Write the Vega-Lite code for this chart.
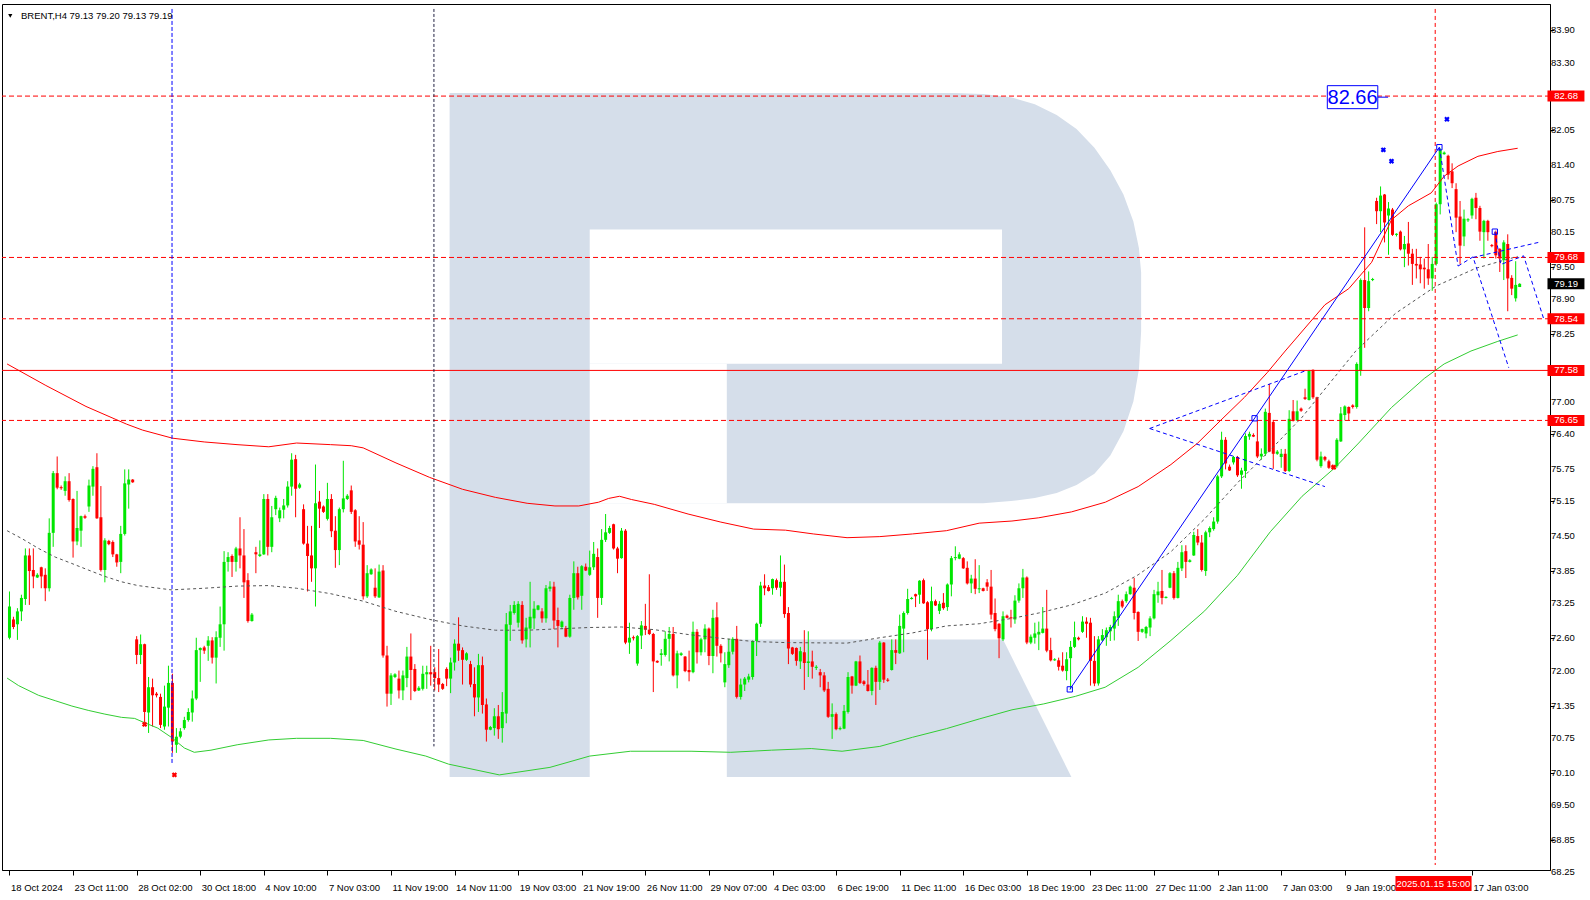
{
"$schema": "https://vega.github.io/schema/vega-lite/v6.json",
"width": 1548, "height": 866,
"autosize": {"type": "none"},
"padding": {"left": 2, "top": 4, "right": 40, "bottom": 30},
"background": "#ffffff",
"config": {"view": {"stroke": "#000000", "strokeWidth": 1}, "font": "Liberation Sans", "axis": {"labelOverlap": false, "labelBound": false, "labelFlush": false, "grid": false}},
"datasets": {
"candles": [
{"i":0,"o":72.61,"h":73.47,"l":72.58,"c":73.19},{"i":1,"o":72.95,"h":73.00,"l":72.77,"c":72.81},{"i":2,"o":72.86,"h":73.16,"l":72.57,"c":73.10},{"i":3,"o":73.10,"h":73.41,"l":72.92,"c":73.35},{"i":4,"o":73.33,"h":74.27,"l":73.22,"c":74.14},{"i":5,"o":74.14,"h":74.27,"l":73.22,"c":73.85},{"i":6,"o":73.87,"h":74.27,"l":73.53,"c":73.75},{"i":7,"o":73.73,"h":73.81,"l":73.72,"c":73.78},{"i":8,"o":73.92,"h":73.93,"l":73.53,"c":73.75},{"i":9,"o":73.78,"h":73.90,"l":73.29,"c":73.53},
{"i":10,"o":73.53,"h":74.83,"l":73.47,"c":74.56},{"i":11,"o":74.56,"h":75.71,"l":74.30,"c":75.67},{"i":12,"o":75.67,"h":75.98,"l":75.37,"c":75.40},{"i":13,"o":75.41,"h":75.44,"l":75.36,"c":75.39},{"i":14,"o":75.34,"h":75.61,"l":75.25,"c":75.52},{"i":15,"o":75.52,"h":75.67,"l":75.14,"c":75.17},{"i":16,"o":75.19,"h":75.20,"l":74.10,"c":74.40},{"i":17,"o":74.40,"h":75.34,"l":74.33,"c":74.65},{"i":18,"o":74.60,"h":74.88,"l":74.30,"c":74.87},{"i":19,"o":74.87,"h":74.90,"l":74.82,"c":74.84},
{"i":20,"o":75.05,"h":75.55,"l":74.95,"c":75.44},{"i":21,"o":75.42,"h":75.80,"l":75.25,"c":75.75},{"i":22,"o":75.78,"h":76.04,"l":74.82,"c":74.83},{"i":23,"o":74.85,"h":75.43,"l":73.84,"c":73.87},{"i":24,"o":73.87,"h":74.46,"l":73.64,"c":74.42},{"i":25,"o":74.41,"h":74.43,"l":74.33,"c":74.35},{"i":26,"o":74.39,"h":74.42,"l":74.11,"c":74.16},{"i":27,"o":74.16,"h":74.17,"l":73.93,"c":74.01},{"i":28,"o":74.02,"h":74.69,"l":73.81,"c":74.54},{"i":29,"o":74.54,"h":75.74,"l":74.51,"c":75.48},
{"i":30,"o":75.46,"h":75.74,"l":75.01,"c":75.55},{"i":31,"o":75.55,"h":75.56,"l":75.49,"c":75.50},{"i":32,"o":72.58,"h":72.64,"l":72.12,"c":72.29},{"i":33,"o":72.29,"h":72.67,"l":72.12,"c":72.49},{"i":34,"o":72.49,"h":72.50,"l":71.02,"c":71.23},{"i":35,"o":71.22,"h":71.88,"l":70.84,"c":71.69},{"i":36,"o":71.69,"h":71.85,"l":70.96,"c":71.54},{"i":37,"o":71.57,"h":71.60,"l":71.50,"c":71.54},{"i":38,"o":71.51,"h":71.57,"l":70.93,"c":70.99},{"i":39,"o":70.96,"h":71.72,"l":70.90,"c":71.33},
{"i":40,"o":71.31,"h":72.09,"l":70.96,"c":71.77},{"i":41,"o":71.77,"h":71.94,"l":70.47,"c":70.68},{"i":42,"o":70.62,"h":70.93,"l":70.47,"c":70.77},{"i":43,"o":70.77,"h":70.93,"l":70.74,"c":70.87},{"i":44,"o":70.93,"h":71.14,"l":70.90,"c":71.08},{"i":45,"o":71.08,"h":71.30,"l":71.05,"c":71.23},{"i":46,"o":71.22,"h":71.63,"l":71.05,"c":71.48},{"i":47,"o":71.48,"h":72.61,"l":71.45,"c":72.38},{"i":48,"o":72.38,"h":72.43,"l":71.79,"c":72.42},{"i":49,"o":72.43,"h":72.46,"l":72.31,"c":72.37},
{"i":50,"o":72.46,"h":72.64,"l":72.18,"c":72.56},{"i":51,"o":72.56,"h":72.62,"l":72.13,"c":72.24},{"i":52,"o":72.24,"h":72.73,"l":71.76,"c":72.62},{"i":53,"o":72.61,"h":73.19,"l":72.44,"c":72.86},{"i":54,"o":72.86,"h":74.22,"l":72.37,"c":74.02},{"i":55,"o":74.02,"h":74.20,"l":73.84,"c":74.11},{"i":56,"o":74.13,"h":74.16,"l":73.74,"c":74.02},{"i":57,"o":74.02,"h":74.30,"l":73.84,"c":74.27},{"i":58,"o":74.27,"h":74.85,"l":73.90,"c":74.14},{"i":59,"o":74.14,"h":74.63,"l":73.35,"c":73.64},
{"i":60,"o":73.68,"h":73.81,"l":72.89,"c":72.92},{"i":61,"o":72.92,"h":73.07,"l":72.91,"c":73.04},{"i":62,"o":74.20,"h":74.30,"l":73.81,"c":74.16},{"i":63,"o":74.13,"h":74.42,"l":74.11,"c":74.16},{"i":64,"o":74.16,"h":75.28,"l":74.15,"c":75.19},{"i":65,"o":75.19,"h":75.28,"l":74.14,"c":74.30},{"i":66,"o":74.30,"h":75.06,"l":74.20,"c":74.85},{"i":67,"o":75.00,"h":75.25,"l":74.89,"c":75.21},{"i":68,"o":74.83,"h":75.03,"l":74.76,"c":74.98},{"i":69,"o":74.99,"h":75.19,"l":74.83,"c":75.07},
{"i":70,"o":75.07,"h":75.52,"l":75.03,"c":75.42},{"i":71,"o":75.42,"h":76.04,"l":75.25,"c":75.92},{"i":72,"o":75.93,"h":76.01,"l":74.85,"c":75.38},{"i":73,"o":75.40,"h":75.49,"l":75.38,"c":75.46},{"i":74,"o":75.00,"h":75.09,"l":74.34,"c":74.36},{"i":75,"o":74.36,"h":74.69,"l":73.47,"c":74.13},{"i":76,"o":74.14,"h":74.69,"l":73.65,"c":73.90},{"i":77,"o":73.90,"h":75.83,"l":73.19,"c":75.11},{"i":78,"o":75.14,"h":75.34,"l":74.65,"c":75.01},{"i":79,"o":75.05,"h":75.07,"l":74.93,"c":74.95},
{"i":80,"o":74.82,"h":75.49,"l":74.79,"c":75.19},{"i":81,"o":75.19,"h":75.28,"l":74.48,"c":74.59},{"i":82,"o":74.60,"h":74.87,"l":73.91,"c":74.24},{"i":83,"o":74.24,"h":75.03,"l":73.96,"c":75.00},{"i":84,"o":75.00,"h":75.90,"l":74.94,"c":75.20},{"i":85,"o":75.19,"h":75.28,"l":75.17,"c":75.25},{"i":86,"o":75.35,"h":75.44,"l":74.91,"c":74.95},{"i":87,"o":74.98,"h":75.00,"l":74.30,"c":74.40},{"i":88,"o":74.42,"h":74.87,"l":74.25,"c":74.34},{"i":89,"o":74.34,"h":74.76,"l":73.32,"c":73.38},
{"i":90,"o":73.38,"h":73.96,"l":73.35,"c":73.81},{"i":91,"o":73.79,"h":73.90,"l":73.78,"c":73.88},{"i":92,"o":73.54,"h":73.90,"l":73.35,"c":73.38},{"i":93,"o":73.36,"h":73.97,"l":73.35,"c":73.84},{"i":94,"o":73.86,"h":73.96,"l":72.24,"c":72.28},{"i":95,"o":72.28,"h":72.46,"l":71.33,"c":71.57},{"i":96,"o":71.57,"h":71.95,"l":71.36,"c":71.91},{"i":97,"o":71.88,"h":71.95,"l":71.86,"c":71.93},{"i":98,"o":71.85,"h":72.00,"l":71.48,"c":71.63},{"i":99,"o":71.63,"h":72.00,"l":71.45,"c":71.91},
{"i":100,"o":71.86,"h":72.44,"l":71.69,"c":72.26},{"i":101,"o":72.26,"h":72.69,"l":71.45,"c":72.01},{"i":102,"o":72.03,"h":72.12,"l":71.60,"c":71.62},{"i":103,"o":71.63,"h":71.71,"l":71.62,"c":71.68},{"i":104,"o":71.66,"h":72.09,"l":71.63,"c":71.94},{"i":105,"o":71.93,"h":72.09,"l":71.66,"c":71.97},{"i":106,"o":71.97,"h":72.46,"l":71.72,"c":71.93},{"i":107,"o":71.97,"h":72.06,"l":71.63,"c":71.86},{"i":108,"o":71.86,"h":72.40,"l":71.60,"c":71.74},{"i":109,"o":71.75,"h":71.77,"l":71.64,"c":71.66},
{"i":110,"o":72.03,"h":72.06,"l":71.71,"c":71.85},{"i":111,"o":71.85,"h":72.24,"l":71.58,"c":72.15},{"i":112,"o":72.15,"h":72.58,"l":72.00,"c":72.50},{"i":113,"o":72.50,"h":72.99,"l":72.18,"c":72.37},{"i":114,"o":72.38,"h":72.43,"l":71.74,"c":72.20},{"i":115,"o":72.20,"h":72.34,"l":72.18,"c":72.32},{"i":116,"o":72.12,"h":72.18,"l":71.69,"c":71.74},{"i":117,"o":71.75,"h":72.06,"l":71.15,"c":71.50},{"i":118,"o":71.50,"h":72.31,"l":71.23,"c":72.10},{"i":119,"o":72.10,"h":72.26,"l":71.20,"c":71.36},
{"i":120,"o":71.37,"h":71.48,"l":70.68,"c":70.90},{"i":121,"o":70.90,"h":70.97,"l":70.89,"c":70.95},{"i":122,"o":70.93,"h":71.30,"l":70.79,"c":71.15},{"i":123,"o":71.15,"h":71.36,"l":70.73,"c":70.91},{"i":124,"o":70.93,"h":71.60,"l":70.66,"c":71.23},{"i":125,"o":71.20,"h":73.07,"l":71.02,"c":72.86},{"i":126,"o":72.85,"h":73.22,"l":72.55,"c":73.10},{"i":127,"o":73.07,"h":73.29,"l":73.04,"c":73.22},{"i":128,"o":72.89,"h":73.29,"l":72.80,"c":73.24},{"i":129,"o":73.22,"h":73.29,"l":72.50,"c":72.56},
{"i":130,"o":72.58,"h":72.98,"l":72.43,"c":72.80},{"i":131,"o":72.78,"h":73.65,"l":72.43,"c":73.00},{"i":132,"o":72.97,"h":73.29,"l":72.77,"c":73.15},{"i":133,"o":73.13,"h":73.22,"l":73.12,"c":73.21},{"i":134,"o":73.10,"h":73.16,"l":72.89,"c":72.97},{"i":135,"o":72.97,"h":73.59,"l":72.89,"c":73.53},{"i":136,"o":73.52,"h":73.66,"l":73.47,"c":73.56},{"i":137,"o":73.56,"h":73.65,"l":72.77,"c":72.93},{"i":138,"o":72.94,"h":73.17,"l":72.43,"c":72.83},{"i":139,"o":72.81,"h":72.93,"l":72.77,"c":72.91},
{"i":140,"o":72.79,"h":72.83,"l":72.62,"c":72.63},{"i":141,"o":72.63,"h":73.41,"l":72.61,"c":73.35},{"i":142,"o":73.35,"h":74.03,"l":73.13,"c":73.81},{"i":143,"o":73.81,"h":73.93,"l":73.32,"c":73.36},{"i":144,"o":73.39,"h":73.96,"l":73.13,"c":73.94},{"i":145,"o":73.93,"h":73.99,"l":73.85,"c":73.86},{"i":146,"o":73.78,"h":74.23,"l":73.76,"c":73.92},{"i":147,"o":73.92,"h":74.39,"l":73.87,"c":74.17},{"i":148,"o":74.11,"h":74.27,"l":72.98,"c":73.35},{"i":149,"o":73.35,"h":74.63,"l":73.22,"c":74.43},
{"i":150,"o":74.43,"h":74.91,"l":74.39,"c":74.57},{"i":151,"o":74.56,"h":74.69,"l":74.54,"c":74.65},{"i":152,"o":74.72,"h":74.73,"l":74.25,"c":74.27},{"i":153,"o":74.27,"h":74.30,"l":73.81,"c":74.08},{"i":154,"o":74.09,"h":74.65,"l":74.08,"c":74.60},{"i":155,"o":74.60,"h":74.63,"l":72.49,"c":72.52},{"i":156,"o":72.52,"h":72.89,"l":72.31,"c":72.61},{"i":157,"o":72.62,"h":72.65,"l":72.56,"c":72.60},{"i":158,"o":72.13,"h":72.66,"l":72.09,"c":72.64},{"i":159,"o":72.65,"h":72.92,"l":72.40,"c":72.84},
{"i":160,"o":72.83,"h":73.24,"l":72.66,"c":72.76},{"i":161,"o":72.76,"h":73.79,"l":72.66,"c":72.68},{"i":162,"o":72.68,"h":72.70,"l":71.60,"c":72.17},{"i":163,"o":72.18,"h":72.19,"l":72.14,"c":72.15},{"i":164,"o":72.29,"h":72.40,"l":72.09,"c":72.32},{"i":165,"o":72.29,"h":72.73,"l":72.26,"c":72.59},{"i":166,"o":72.59,"h":72.81,"l":72.17,"c":72.68},{"i":167,"o":72.68,"h":72.81,"l":71.89,"c":71.91},{"i":168,"o":71.91,"h":72.37,"l":71.67,"c":72.32},{"i":169,"o":72.29,"h":72.34,"l":72.27,"c":72.32},
{"i":170,"o":72.26,"h":72.27,"l":71.97,"c":71.99},{"i":171,"o":72.01,"h":72.37,"l":71.80,"c":71.97},{"i":172,"o":71.97,"h":72.91,"l":71.95,"c":72.72},{"i":173,"o":72.72,"h":72.77,"l":72.13,"c":72.34},{"i":174,"o":72.34,"h":72.61,"l":72.28,"c":72.58},{"i":175,"o":72.58,"h":72.86,"l":72.34,"c":72.78},{"i":176,"o":72.78,"h":72.80,"l":72.10,"c":72.27},{"i":177,"o":72.27,"h":73.13,"l":71.95,"c":72.98},{"i":178,"o":72.99,"h":73.27,"l":72.26,"c":72.46},{"i":179,"o":72.46,"h":72.49,"l":72.15,"c":72.32},
{"i":180,"o":71.78,"h":72.34,"l":71.69,"c":72.12},{"i":181,"o":72.10,"h":72.59,"l":72.05,"c":72.35},{"i":182,"o":72.35,"h":72.62,"l":72.30,"c":72.59},{"i":183,"o":72.59,"h":72.83,"l":71.48,"c":71.51},{"i":184,"o":71.51,"h":71.85,"l":71.46,"c":71.74},{"i":185,"o":71.74,"h":71.88,"l":71.62,"c":71.85},{"i":186,"o":71.83,"h":71.94,"l":71.78,"c":71.89},{"i":187,"o":71.88,"h":72.56,"l":71.83,"c":72.55},{"i":188,"o":72.55,"h":72.89,"l":72.27,"c":72.87},{"i":189,"o":72.87,"h":73.65,"l":72.81,"c":73.58},
{"i":190,"o":73.58,"h":73.79,"l":73.40,"c":73.53},{"i":191,"o":73.55,"h":73.59,"l":73.47,"c":73.48},{"i":192,"o":73.53,"h":73.71,"l":73.41,"c":73.70},{"i":193,"o":73.68,"h":73.71,"l":73.50,"c":73.54},{"i":194,"o":73.54,"h":74.14,"l":73.38,"c":73.65},{"i":195,"o":73.65,"h":73.97,"l":72.98,"c":73.05},{"i":196,"o":73.07,"h":73.18,"l":72.12,"c":72.41},{"i":197,"o":72.43,"h":72.44,"l":72.29,"c":72.31},{"i":198,"o":72.42,"h":72.43,"l":72.09,"c":72.18},{"i":199,"o":72.17,"h":72.44,"l":72.03,"c":72.36},
{"i":200,"o":72.34,"h":72.75,"l":71.64,"c":72.14},{"i":201,"o":72.14,"h":72.73,"l":71.88,"c":72.17},{"i":202,"o":72.17,"h":72.37,"l":71.85,"c":72.07},{"i":203,"o":72.05,"h":72.10,"l":72.01,"c":72.07},{"i":204,"o":71.97,"h":72.03,"l":71.69,"c":71.91},{"i":205,"o":71.91,"h":71.97,"l":71.60,"c":71.63},{"i":206,"o":71.66,"h":71.79,"l":71.12,"c":71.14},{"i":207,"o":71.14,"h":71.39,"l":70.73,"c":71.19},{"i":208,"o":71.19,"h":71.22,"l":70.89,"c":70.91},{"i":209,"o":70.91,"h":70.96,"l":70.89,"c":70.93},
{"i":210,"o":70.92,"h":71.36,"l":70.91,"c":71.25},{"i":211,"o":71.23,"h":71.97,"l":71.20,"c":71.88},{"i":212,"o":71.89,"h":71.90,"l":71.57,"c":71.72},{"i":213,"o":71.72,"h":72.18,"l":71.71,"c":72.17},{"i":214,"o":72.17,"h":72.28,"l":71.75,"c":71.77},{"i":215,"o":71.80,"h":71.82,"l":71.72,"c":71.75},{"i":216,"o":71.74,"h":72.01,"l":71.61,"c":71.62},{"i":217,"o":71.62,"h":72.06,"l":71.54,"c":72.05},{"i":218,"o":72.05,"h":72.09,"l":71.36,"c":71.79},{"i":219,"o":71.79,"h":72.55,"l":71.64,"c":72.52},
{"i":220,"o":72.52,"h":72.53,"l":71.77,"c":71.83},{"i":221,"o":71.83,"h":71.86,"l":71.79,"c":71.81},{"i":222,"o":72.01,"h":72.58,"l":72.00,"c":72.38},{"i":223,"o":72.38,"h":72.58,"l":72.12,"c":72.33},{"i":224,"o":72.32,"h":73.04,"l":72.31,"c":72.83},{"i":225,"o":72.78,"h":73.10,"l":72.34,"c":73.07},{"i":226,"o":73.07,"h":73.52,"l":73.04,"c":73.33},{"i":227,"o":73.33,"h":73.37,"l":73.32,"c":73.35},{"i":228,"o":73.42,"h":73.43,"l":73.18,"c":73.38},{"i":229,"o":73.41,"h":73.68,"l":73.24,"c":73.67},
{"i":230,"o":73.68,"h":73.71,"l":73.24,"c":73.25},{"i":231,"o":73.27,"h":73.29,"l":72.20,"c":72.77},{"i":232,"o":72.77,"h":73.56,"l":72.73,"c":73.29},{"i":233,"o":73.29,"h":73.32,"l":73.20,"c":73.21},{"i":234,"o":73.11,"h":73.29,"l":73.05,"c":73.24},{"i":235,"o":73.26,"h":73.44,"l":73.13,"c":73.16},{"i":236,"o":73.18,"h":73.62,"l":73.11,"c":73.60},{"i":237,"o":73.60,"h":74.13,"l":73.38,"c":74.09},{"i":238,"o":74.09,"h":74.31,"l":74.05,"c":74.11},{"i":239,"o":74.08,"h":74.20,"l":74.07,"c":74.16},
{"i":240,"o":74.09,"h":74.11,"l":73.89,"c":73.90},{"i":241,"o":73.91,"h":74.03,"l":73.60,"c":73.62},{"i":242,"o":73.62,"h":73.78,"l":73.44,"c":73.71},{"i":243,"o":73.71,"h":74.07,"l":73.42,"c":73.52},{"i":244,"o":73.51,"h":73.96,"l":73.44,"c":73.53},{"i":245,"o":73.53,"h":73.54,"l":73.47,"c":73.48},{"i":246,"o":73.64,"h":73.70,"l":73.48,"c":73.56},{"i":247,"o":73.56,"h":73.87,"l":72.95,"c":73.04},{"i":248,"o":73.07,"h":73.34,"l":72.73,"c":72.77},{"i":249,"o":72.87,"h":72.88,"l":72.23,"c":72.60},
{"i":250,"o":72.58,"h":73.10,"l":72.55,"c":73.01},{"i":251,"o":73.02,"h":73.04,"l":72.97,"c":72.98},{"i":252,"o":72.99,"h":73.13,"l":72.80,"c":72.97},{"i":253,"o":72.95,"h":73.40,"l":72.87,"c":73.30},{"i":254,"o":73.30,"h":73.62,"l":73.26,"c":73.53},{"i":255,"o":73.53,"h":73.89,"l":73.35,"c":73.73},{"i":256,"o":73.73,"h":73.75,"l":72.49,"c":72.52},{"i":257,"o":72.52,"h":72.67,"l":72.49,"c":72.63},{"i":258,"o":72.61,"h":72.89,"l":72.50,"c":72.69},{"i":259,"o":72.67,"h":72.91,"l":72.38,"c":72.72},
{"i":260,"o":72.70,"h":73.18,"l":72.69,"c":72.78},{"i":261,"o":72.78,"h":73.50,"l":72.34,"c":72.37},{"i":262,"o":72.38,"h":72.61,"l":72.17,"c":72.19},{"i":263,"o":72.19,"h":72.23,"l":72.18,"c":72.21},{"i":264,"o":72.19,"h":72.24,"l":72.00,"c":72.07},{"i":265,"o":72.09,"h":72.34,"l":71.98,"c":72.00},{"i":266,"o":71.99,"h":72.34,"l":71.82,"c":72.21},{"i":267,"o":72.23,"h":72.55,"l":71.65,"c":72.44},{"i":268,"o":72.44,"h":72.91,"l":72.42,"c":72.62},{"i":269,"o":72.61,"h":72.63,"l":72.56,"c":72.58},
{"i":270,"o":72.72,"h":73.01,"l":72.70,"c":72.91},{"i":271,"o":72.91,"h":72.99,"l":72.61,"c":72.87},{"i":272,"o":72.89,"h":72.98,"l":71.72,"c":72.18},{"i":273,"o":72.18,"h":72.64,"l":71.71,"c":71.76},{"i":274,"o":71.76,"h":72.64,"l":71.72,"c":72.58},{"i":275,"o":72.56,"h":72.77,"l":72.55,"c":72.66},{"i":276,"o":72.62,"h":72.80,"l":72.46,"c":72.75},{"i":277,"o":72.73,"h":72.85,"l":72.55,"c":72.81},{"i":278,"o":72.78,"h":73.10,"l":72.56,"c":73.01},{"i":279,"o":72.98,"h":73.41,"l":72.83,"c":73.29},
{"i":280,"o":73.29,"h":73.32,"l":73.16,"c":73.19},{"i":281,"o":73.29,"h":73.47,"l":73.26,"c":73.42},{"i":282,"o":73.42,"h":73.58,"l":73.41,"c":73.56},{"i":283,"o":73.54,"h":73.72,"l":72.95,"c":73.07},{"i":284,"o":73.09,"h":73.10,"l":72.55,"c":72.72},{"i":285,"o":72.72,"h":72.78,"l":72.70,"c":72.77},{"i":286,"o":72.69,"h":72.83,"l":72.60,"c":72.81},{"i":287,"o":72.80,"h":73.01,"l":72.64,"c":72.97},{"i":288,"o":72.97,"h":73.50,"l":72.95,"c":73.42},{"i":289,"o":73.40,"h":73.65,"l":73.26,"c":73.47},
{"i":290,"o":73.48,"h":73.87,"l":73.23,"c":73.35},{"i":291,"o":73.35,"h":73.38,"l":73.34,"c":73.37},{"i":292,"o":73.54,"h":73.83,"l":73.53,"c":73.81},{"i":293,"o":73.81,"h":73.85,"l":73.32,"c":73.35},{"i":294,"o":73.35,"h":74.02,"l":73.34,"c":73.91},{"i":295,"o":73.90,"h":74.33,"l":73.85,"c":74.20},{"i":296,"o":74.22,"h":74.33,"l":73.72,"c":74.02},{"i":297,"o":74.02,"h":74.07,"l":74.01,"c":74.05},{"i":298,"o":74.14,"h":74.58,"l":74.13,"c":74.52},{"i":299,"o":74.50,"h":74.63,"l":74.33,"c":74.38},
{"i":300,"o":74.38,"h":74.52,"l":73.84,"c":73.87},{"i":301,"o":73.85,"h":74.60,"l":73.76,"c":74.57},{"i":302,"o":74.57,"h":74.68,"l":74.48,"c":74.65},{"i":303,"o":74.63,"h":74.85,"l":74.60,"c":74.77},{"i":304,"o":74.77,"h":75.64,"l":74.73,"c":75.61},{"i":305,"o":75.61,"h":76.44,"l":75.58,"c":76.29},{"i":306,"o":76.29,"h":76.34,"l":75.74,"c":75.85},{"i":307,"o":75.79,"h":75.83,"l":75.71,"c":75.72},{"i":308,"o":75.87,"h":75.99,"l":75.83,"c":75.97},{"i":309,"o":75.97,"h":75.99,"l":75.60,"c":75.63},
{"i":310,"o":75.64,"h":75.77,"l":75.38,"c":75.72},{"i":311,"o":75.71,"h":76.41,"l":75.58,"c":76.36},{"i":312,"o":76.35,"h":76.44,"l":76.29,"c":76.40},{"i":313,"o":76.38,"h":76.41,"l":76.34,"c":76.35},{"i":314,"o":76.26,"h":76.66,"l":75.95,"c":75.98},{"i":315,"o":75.98,"h":76.13,"l":75.92,"c":76.03},{"i":316,"o":76.03,"h":76.87,"l":75.99,"c":76.81},{"i":317,"o":76.79,"h":77.33,"l":76.06,"c":76.07},{"i":318,"o":76.62,"h":76.66,"l":75.75,"c":76.03},{"i":319,"o":76.03,"h":76.10,"l":76.01,"c":76.07},
{"i":320,"o":75.97,"h":76.12,"l":75.77,"c":76.03},{"i":321,"o":76.03,"h":76.12,"l":75.69,"c":75.71},{"i":322,"o":75.71,"h":76.84,"l":75.69,"c":76.68},{"i":323,"o":76.82,"h":77.03,"l":76.63,"c":76.64},{"i":324,"o":76.65,"h":77.02,"l":76.64,"c":76.82},{"i":325,"o":76.87,"h":76.89,"l":76.81,"c":76.83},{"i":326,"o":77.08,"h":77.24,"l":77.03,"c":77.05},{"i":327,"o":77.03,"h":77.59,"l":77.02,"c":77.57},{"i":328,"o":77.59,"h":77.60,"l":77.05,"c":77.08},{"i":329,"o":77.08,"h":77.09,"l":75.89,"c":75.92},
{"i":330,"o":75.80,"h":76.07,"l":75.77,"c":75.98},{"i":331,"o":75.97,"h":75.99,"l":75.89,"c":75.92},{"i":332,"o":75.89,"h":75.92,"l":75.75,"c":75.77},{"i":333,"o":75.81,"h":75.83,"l":75.74,"c":75.77},{"i":334,"o":75.80,"h":76.32,"l":75.77,"c":76.29},{"i":335,"o":76.26,"h":76.90,"l":76.25,"c":76.78},{"i":336,"o":76.75,"h":76.93,"l":76.65,"c":76.91},{"i":337,"o":76.90,"h":76.91,"l":76.65,"c":76.78},{"i":338,"o":76.93,"h":76.95,"l":76.87,"c":76.90},{"i":339,"o":76.90,"h":77.73,"l":76.87,"c":77.70},
{"i":340,"o":77.57,"h":79.29,"l":77.48,"c":79.26},{"i":341,"o":79.26,"h":80.24,"l":78.00,"c":78.74},{"i":342,"o":78.74,"h":79.42,"l":78.68,"c":79.24},{"i":343,"o":79.26,"h":79.30,"l":79.24,"c":79.28},{"i":344,"o":80.73,"h":80.79,"l":80.30,"c":80.54},{"i":345,"o":80.54,"h":81.00,"l":80.15,"c":80.83},{"i":346,"o":80.85,"h":80.86,"l":79.96,"c":80.33},{"i":347,"o":80.46,"h":80.71,"l":79.73,"c":80.59},{"i":348,"o":80.57,"h":80.60,"l":80.08,"c":80.10},{"i":349,"o":80.10,"h":80.13,"l":80.07,"c":80.12},
{"i":350,"o":80.16,"h":80.18,"l":79.81,"c":79.83},{"i":351,"o":79.83,"h":80.08,"l":79.50,"c":79.93},{"i":352,"o":79.94,"h":80.34,"l":79.53,"c":79.75},{"i":353,"o":79.75,"h":79.84,"l":79.17,"c":79.56},{"i":354,"o":79.56,"h":79.84,"l":79.29,"c":79.53},{"i":355,"o":79.55,"h":79.69,"l":79.20,"c":79.46},{"i":356,"o":79.49,"h":79.66,"l":79.10,"c":79.46},{"i":357,"o":79.46,"h":79.93,"l":79.17,"c":79.29},{"i":358,"o":79.29,"h":79.69,"l":79.06,"c":79.56},{"i":359,"o":79.56,"h":80.70,"l":79.53,"c":80.67},
{"i":360,"o":80.67,"h":81.71,"l":80.48,"c":81.68},{"i":361,"o":81.60,"h":81.65,"l":81.59,"c":81.63},{"i":362,"o":81.57,"h":81.59,"l":81.13,"c":81.22},{"i":363,"o":81.28,"h":81.43,"l":80.97,"c":81.06},{"i":364,"o":80.95,"h":81.06,"l":80.15,"c":80.42},{"i":365,"o":80.44,"h":80.73,"l":79.56,"c":79.90},{"i":366,"o":80.07,"h":80.57,"l":79.89,"c":80.40},{"i":367,"o":80.37,"h":80.41,"l":80.34,"c":80.39},{"i":368,"o":80.46,"h":80.79,"l":80.40,"c":80.77},{"i":369,"o":80.79,"h":80.88,"l":80.39,"c":80.60},
{"i":370,"o":80.60,"h":80.64,"l":79.99,"c":80.16},{"i":371,"o":80.15,"h":80.38,"l":79.66,"c":80.36},{"i":372,"o":80.36,"h":80.38,"l":79.99,"c":80.15},{"i":373,"o":79.91,"h":79.93,"l":79.87,"c":79.89},{"i":374,"o":80.15,"h":80.18,"l":79.66,"c":79.72},{"i":375,"o":79.84,"h":79.85,"l":79.41,"c":79.66},{"i":376,"o":79.63,"h":80.00,"l":79.26,"c":79.96},{"i":377,"o":79.93,"h":80.11,"l":78.68,"c":79.29},{"i":378,"o":79.30,"h":79.35,"l":78.98,"c":79.10},{"i":379,"o":78.92,"h":79.61,"l":78.86,"c":79.17},
{"i":380,"o":79.13,"h":79.20,"l":79.13,"c":79.19}
],
"up": [
{"i":-0.6,"p":77.70},{"i":9.15,"p":77.30},{"i":19.25,"p":76.91},{"i":29.5,"p":76.58},{"i":33.5,"p":76.47},{"i":41,"p":76.32},{"i":49,"p":76.25},{"i":57.25,"p":76.20},{"i":65.25,"p":76.16},{"i":72.25,"p":76.23},{"i":80.75,"p":76.20},{"i":86,"p":76.18},{"i":89,"p":76.14},{"i":97.25,"p":75.86},{"i":105.75,"p":75.59},{"i":114,"p":75.37},{"i":122.25,"p":75.22},{"i":130.25,"p":75.11},{"i":137.25,"p":75.06},{"i":143.25,"p":75.06},{"i":148.25,"p":75.13},{"i":150.75,"p":75.20},{"i":153.5,"p":75.24},{"i":156.5,"p":75.18},{"i":162.25,"p":75.09},{"i":170.75,"p":74.91},{"i":179,"p":74.76},{"i":187.25,"p":74.63},{"i":195.25,"p":74.61},{"i":202.25,"p":74.54},{"i":210.75,"p":74.47},{"i":219,"p":74.49},{"i":227.25,"p":74.54},{"i":235.75,"p":74.60},{"i":244,"p":74.74},{"i":252.25,"p":74.78},{"i":259,"p":74.84},{"i":267.25,"p":74.95},{"i":275.75,"p":75.13},{"i":284,"p":75.42},{"i":292.25,"p":75.83},{"i":299,"p":76.23},{"i":304.75,"p":76.65},{"i":310.75,"p":77.08},{"i":316.5,"p":77.54},{"i":321,"p":77.94},{"i":322.75,"p":78.09},{"i":331,"p":78.80},{"i":337,"p":79.10},{"i":342.75,"p":79.59},{"i":347.75,"p":80.38},{"i":352,"p":80.64},{"i":357.75,"p":80.88},{"i":361,"p":81.19},{"i":364.5,"p":81.38},{"i":369.5,"p":81.56},{"i":374.5,"p":81.65},{"i":379.5,"p":81.71}
],
"mid": [
{"i":-0.6,"p":74.60},{"i":3.2,"p":74.45},{"i":7.3,"p":74.27},{"i":11.5,"p":74.11},{"i":15.7,"p":73.99},{"i":19.8,"p":73.87},{"i":24,"p":73.75},{"i":28.2,"p":73.65},{"i":32.3,"p":73.58},{"i":36.5,"p":73.54},{"i":40.7,"p":73.50},{"i":49,"p":73.53},{"i":57.3,"p":73.57},{"i":65.25,"p":73.58},{"i":72.25,"p":73.53},{"i":80.75,"p":73.43},{"i":89,"p":73.29},{"i":97.25,"p":73.10},{"i":105.75,"p":72.95},{"i":114,"p":72.83},{"i":122.25,"p":72.75},{"i":130.25,"p":72.75},{"i":145.75,"p":72.80},{"i":154,"p":72.81},{"i":162.25,"p":72.76},{"i":170.75,"p":72.67},{"i":179,"p":72.60},{"i":187.25,"p":72.54},{"i":195.25,"p":72.52},{"i":210.75,"p":72.51},{"i":219,"p":72.61},{"i":227.25,"p":72.70},{"i":235.75,"p":72.83},{"i":244,"p":72.87},{"i":252.25,"p":72.97},{"i":259,"p":73.07},{"i":267.25,"p":73.22},{"i":275.75,"p":73.44},{"i":284,"p":73.78},{"i":292.25,"p":74.21},{"i":300.75,"p":74.82},{"i":309,"p":75.49},{"i":317.25,"p":76.10},{"i":325.25,"p":76.71},{"i":338.75,"p":77.94},{"i":348.75,"p":78.64},{"i":359,"p":79.15},{"i":369,"p":79.48},{"i":379.5,"p":79.70}
],
"low": [
{"i":-0.6,"p":71.86},{"i":2.3,"p":71.72},{"i":7.3,"p":71.54},{"i":11.5,"p":71.44},{"i":15.7,"p":71.34},{"i":19.8,"p":71.26},{"i":24,"p":71.19},{"i":28.2,"p":71.13},{"i":31.5,"p":71.11},{"i":34,"p":71.03},{"i":37.3,"p":70.93},{"i":40.7,"p":70.76},{"i":44,"p":70.56},{"i":46.5,"p":70.48},{"i":50.7,"p":70.52},{"i":57.3,"p":70.62},{"i":65.25,"p":70.71},{"i":72.25,"p":70.74},{"i":80.75,"p":70.74},{"i":89,"p":70.70},{"i":97.25,"p":70.54},{"i":104.75,"p":70.41},{"i":110.5,"p":70.26},{"i":123.25,"p":70.06},{"i":136,"p":70.20},{"i":146,"p":70.41},{"i":156.25,"p":70.50},{"i":171.5,"p":70.50},{"i":181.5,"p":70.48},{"i":191.75,"p":70.52},{"i":201.75,"p":70.55},{"i":209.5,"p":70.50},{"i":219,"p":70.59},{"i":227.25,"p":70.76},{"i":235.75,"p":70.92},{"i":244,"p":71.10},{"i":252.25,"p":71.27},{"i":260.25,"p":71.38},{"i":268.2,"p":71.52},{"i":275.7,"p":71.69},{"i":284,"p":72.06},{"i":292.25,"p":72.56},{"i":300.75,"p":73.11},{"i":309,"p":73.77},{"i":317.25,"p":74.58},{"i":325.25,"p":75.24},{"i":333.5,"p":75.77},{"i":339.5,"p":76.23},{"i":347.75,"p":76.89},{"i":356,"p":77.43},{"i":361,"p":77.70},{"i":367.75,"p":77.94},{"i":374.5,"p":78.12},{"i":379.5,"p":78.24}
],
"logo": [
{"i":110.75,"t":82.737,"b":70.021},{"i":146,"t":82.737,"b":70.021},{"i":146.05,"t":82.737,"b":75.111},{"i":238,"t":82.737,"b":75.111},{"i":245,"t":82.72,"b":75.111},{"i":252,"t":82.66,"b":75.15},{"i":258,"t":82.53,"b":75.21},{"i":263.5,"t":82.33,"b":75.30},{"i":268.5,"t":82.07,"b":75.45},{"i":273,"t":81.72,"b":75.66},{"i":277,"t":81.30,"b":76.00},{"i":280.3,"t":80.85,"b":76.45},{"i":282.8,"t":80.35,"b":77.00},{"i":284.2,"t":79.85,"b":77.60},{"i":284.75,"t":79.40,"b":78.308}
],
"leg": [
{"i":180.5,"t":72.575,"b":70.021},{"i":250,"t":72.575,"b":70.021},{"i":267.2,"t":70.021,"b":70.021}
],
"holes": [
{"a":146,"b":249.75,"lo":77.702,"hi":80.201},{"a":146,"b":180.5,"lo":75.111,"hi":77.702}
],
"lev": [{"p":82.68},{"p":79.68},{"p":78.54},{"p":76.65}],
"lev2": [{"p":77.58}],
"vblue": [{"i":40.9,"top":84.3,"bot":70.26}],
"vnavy": [{"i":106.8,"top":84.3,"bot":70.59}],
"vred": [{"i":358.75,"top":84.3,"bot":68.385}],
"trend": [{"i":266.8,"p":71.65},{"i":359.8,"p":81.73}],
"sq": [{"i":266.8,"p":71.65},{"i":313.3,"p":76.69},{"i":359.8,"p":81.73},{"i":373.75,"p":80.16}],
"fc": [
{"g":1,"k":0,"i":359.8,"p":81.73},{"g":1,"k":1,"i":364.5,"p":79.52},
{"g":2,"k":0,"i":364.5,"p":79.52},{"g":2,"k":1,"i":368.25,"p":79.69},{"g":2,"k":2,"i":377.25,"p":77.63},
{"g":3,"k":0,"i":368.25,"p":79.68},{"g":3,"k":1,"i":384.75,"p":79.96},
{"g":4,"k":0,"i":373.75,"p":80.16},{"g":4,"k":1,"i":375.25,"p":79.55},{"g":4,"k":2,"i":381,"p":79.71},{"g":4,"k":3,"i":386,"p":78.55},
{"g":5,"k":0,"i":286.9,"p":76.50},{"g":5,"k":1,"i":326,"p":77.57},
{"g":6,"k":0,"i":286.9,"p":76.50},{"g":6,"k":1,"i":331,"p":75.42}
],
"xb": [{"i":345.7,"p":81.68},{"i":347.75,"p":81.47},{"i":361.7,"p":82.25}],
"xr": [{"i":41.5,"p":70.06},{"i":34,"p":71.00},{"i":333.2,"p":75.78}],
"tagsr": [{"p":82.68,"t":"82.68"},{"p":79.68,"t":"79.68"},{"p":78.54,"t":"78.54"},{"p":77.58,"t":"77.58"},{"p":76.65,"t":"76.65"}],
"tagsb": [{"p":79.19,"t":"79.19"}],
"ylab": [{"p":68.25,"t":"68.25"},{"p":68.85,"t":"68.85"},{"p":69.50,"t":"69.50"},{"p":70.10,"t":"70.10"},{"p":70.75,"t":"70.75"},{"p":71.35,"t":"71.35"},{"p":72.00,"t":"72.00"},{"p":72.60,"t":"72.60"},{"p":73.25,"t":"73.25"},{"p":73.85,"t":"73.85"},{"p":74.50,"t":"74.50"},{"p":75.15,"t":"75.15"},{"p":75.75,"t":"75.75"},{"p":76.40,"t":"76.40"},{"p":77.00,"t":"77.00"},{"p":78.25,"t":"78.25"},{"p":78.90,"t":"78.90"},{"p":79.50,"t":"79.50"},{"p":80.15,"t":"80.15"},{"p":80.75,"t":"80.75"},{"p":81.40,"t":"81.40"},{"p":82.05,"t":"82.05"},{"p":83.30,"t":"83.30"},{"p":83.90,"t":"83.90"}]
},
"layer": [
{"data": {"name": "logo"}, "mark": {"type": "area", "color": "#d5deea"},
 "encoding": {
  "x": {"field": "i", "type": "quantitative", "title": null, "scale": {"domain": [-0.625, 386.375], "nice": false, "zero": false},
   "axis": {"title": null, "orient": "bottom", "values": [0,16,32,48,64,80,96,112,128,144,160,176,192,208,224,240,256,272,288,304,320,336,368],
    "labelExpr": "['18 Oct 2024','23 Oct 11:00','28 Oct 02:00','30 Oct 18:00','4 Nov 10:00','7 Nov 03:00','11 Nov 19:00','14 Nov 11:00','19 Nov 03:00','21 Nov 19:00','26 Nov 11:00','29 Nov 07:00','4 Dec 03:00','6 Dec 19:00','11 Dec 11:00','16 Dec 03:00','18 Dec 19:00','23 Dec 11:00','27 Dec 11:00','2 Jan 11:00','7 Jan 03:00','9 Jan 19:00','13 Jan 11:00','17 Jan 03:00'][round(datum.value/16)]",
    "labelAlign": "left", "labelBaseline": "top", "labelPadding": 7, "labelOffset": 1, "labelFontSize": 9.5, "labelFont": "Liberation Sans", "labelColor": "#000000",
    "tickSize": 5, "tickColor": "#000000", "domainColor": "#000000", "grid": false, "labelOverlap": false, "labelFlush": false, "labelBound": false}},
  "y": {"field": "t", "type": "quantitative", "title": null, "scale": {"domain": [68.385, 84.299], "nice": false, "zero": false},
   "axis": {"title": null, "orient": "right", "values": [68.85,69.5,70.1,70.75,71.35,72.0,72.6,73.25,73.85,74.5,75.15,75.75,76.4,77.0,78.25,78.9,79.5,80.15,80.75,81.4,82.05,83.3,83.9],
    "labels": false, "tickSize": 4, "tickColor": "#000000", "domainColor": "#000000", "grid": false}},
  "y2": {"field": "b"}
 }},
{"data": {"name": "leg"}, "mark": {"type": "area", "color": "#d5deea"},
 "encoding": {"x": {"field": "i", "type": "quantitative", "title": null}, "y": {"field": "t", "type": "quantitative", "title": null}, "y2": {"field": "b"}}},
{"data": {"name": "holes"}, "mark": {"type": "rect", "color": "#ffffff"},
 "encoding": {"x": {"field": "a", "type": "quantitative", "title": null}, "x2": {"field": "b"}, "y": {"field": "lo", "type": "quantitative", "title": null}, "y2": {"field": "hi"}}},
{"data": {"name": "candles"}, "mark": {"type": "rule", "strokeWidth": 1},
 "encoding": {"x": {"field": "i", "type": "quantitative", "title": null}, "y": {"field": "l", "type": "quantitative", "title": null}, "y2": {"field": "h"},
  "color": {"condition": {"test": "datum.c >= datum.o", "value": "#00e600"}, "value": "#ff0000"}}},
{"data": {"name": "candles"}, "mark": {"type": "bar", "size": 3},
 "encoding": {"x": {"field": "i", "type": "quantitative", "title": null}, "y": {"field": "o", "type": "quantitative", "title": null}, "y2": {"field": "c"},
  "color": {"condition": {"test": "datum.c >= datum.o", "value": "#00e600"}, "value": "#ff0000"}}},
{"data": {"name": "up"}, "mark": {"type": "line", "color": "#ff0000", "strokeWidth": 1},
 "encoding": {"x": {"field": "i", "type": "quantitative", "title": null}, "y": {"field": "p", "type": "quantitative", "title": null}}},
{"data": {"name": "mid"}, "mark": {"type": "line", "color": "#555555", "strokeWidth": 1, "strokeDash": [3, 3]},
 "encoding": {"x": {"field": "i", "type": "quantitative", "title": null}, "y": {"field": "p", "type": "quantitative", "title": null}}},
{"data": {"name": "low"}, "mark": {"type": "line", "color": "#32cd32", "strokeWidth": 1},
 "encoding": {"x": {"field": "i", "type": "quantitative", "title": null}, "y": {"field": "p", "type": "quantitative", "title": null}}},
{"data": {"name": "lev"}, "mark": {"type": "rule", "color": "#ff0000", "strokeWidth": 1, "strokeDash": [5, 3]},
 "encoding": {"y": {"field": "p", "type": "quantitative", "title": null}}},
{"data": {"name": "lev2"}, "mark": {"type": "rule", "color": "#ff0000", "strokeWidth": 1},
 "encoding": {"y": {"field": "p", "type": "quantitative", "title": null}}},
{"data": {"name": "vblue"}, "mark": {"type": "rule", "color": "#0000ff", "strokeWidth": 1, "strokeDash": [4, 2]},
 "encoding": {"x": {"field": "i", "type": "quantitative", "title": null}, "y": {"field": "top", "type": "quantitative", "title": null}, "y2": {"field": "bot"}}},
{"data": {"name": "vnavy"}, "mark": {"type": "rule", "color": "#202040", "strokeWidth": 1, "strokeDash": [3, 2]},
 "encoding": {"x": {"field": "i", "type": "quantitative", "title": null}, "y": {"field": "top", "type": "quantitative", "title": null}, "y2": {"field": "bot"}}},
{"data": {"name": "vred"}, "mark": {"type": "rule", "color": "#ff0000", "strokeWidth": 1, "strokeDash": [4, 3]},
 "encoding": {"x": {"field": "i", "type": "quantitative", "title": null}, "y": {"field": "top", "type": "quantitative", "title": null}, "y2": {"field": "bot"}}},
{"data": {"name": "trend"}, "mark": {"type": "line", "color": "#0000ff", "strokeWidth": 1},
 "encoding": {"x": {"field": "i", "type": "quantitative", "title": null}, "y": {"field": "p", "type": "quantitative", "title": null}}},
{"data": {"name": "fc"}, "mark": {"type": "line", "color": "#0000ff", "strokeWidth": 1, "strokeDash": [4, 3]},
 "encoding": {"x": {"field": "i", "type": "quantitative", "title": null}, "y": {"field": "p", "type": "quantitative", "title": null}, "detail": {"field": "g", "type": "nominal"}, "order": {"field": "k", "type": "quantitative"}}},
{"data": {"name": "sq"}, "mark": {"type": "point", "shape": "square", "filled": false, "color": "#0000ff", "size": 28, "strokeWidth": 1, "opacity": 1},
 "encoding": {"x": {"field": "i", "type": "quantitative", "title": null}, "y": {"field": "p", "type": "quantitative", "title": null}}},
{"data": {"name": "xb"}, "mark": {"type": "point", "shape": "cross", "angle": 45, "filled": true, "color": "#0000ff", "size": 30, "opacity": 1},
 "encoding": {"x": {"field": "i", "type": "quantitative", "title": null}, "y": {"field": "p", "type": "quantitative", "title": null}}},
{"data": {"name": "xr"}, "mark": {"type": "point", "shape": "cross", "angle": 45, "filled": true, "color": "#ff0000", "size": 30, "opacity": 1},
 "encoding": {"x": {"field": "i", "type": "quantitative", "title": null}, "y": {"field": "p", "type": "quantitative", "title": null}}},
{"data": {"values": [{"p": 82.66, "t": "82.66"}]}, "mark": {"type": "rule", "color": "#0000ff", "strokeWidth": 1},
 "encoding": {"x": {"datum": 344.3, "type": "quantitative", "title": null}, "x2": {"datum": 346.9}, "y": {"field": "p", "type": "quantitative", "title": null}}},
{"data": {"values": [{"p": 82.66, "t": "82.66"}]}, "mark": {"type": "bar", "size": 23, "fill": "#ffffff", "stroke": "#0000ff", "strokeWidth": 1},
 "encoding": {"x": {"datum": 331.6, "type": "quantitative", "title": null}, "x2": {"datum": 344.3}, "y": {"field": "p", "type": "quantitative", "title": null}}},
{"data": {"values": [{"p": 82.66, "t": "82.66"}]}, "mark": {"type": "text", "color": "#0000ff", "fontSize": 20, "font": "Liberation Sans", "align": "center", "baseline": "middle", "dy": 1},
 "encoding": {"x": {"datum": 337.95, "type": "quantitative", "title": null}, "y": {"field": "p", "type": "quantitative", "title": null}, "text": {"field": "t"}}},
{"data": {"values": [{"t": "BRENT,H4  79.13 79.20 79.13 79.19"}]}, "mark": {"type": "text", "color": "#000000", "fontSize": 9.5, "font": "Liberation Sans", "align": "left", "baseline": "middle"},
 "encoding": {"x": {"datum": 2.9, "type": "quantitative", "title": null}, "y": {"datum": 84.16, "type": "quantitative", "title": null}, "text": {"field": "t"}}},
{"data": {"values": [{"t": "v"}]}, "mark": {"type": "point", "shape": "triangle-down", "filled": true, "color": "#000000", "size": 18, "opacity": 1},
 "encoding": {"x": {"datum": 0.2, "type": "quantitative", "title": null}, "y": {"datum": 84.17, "type": "quantitative", "title": null}}},
{"data": {"name": "ylab"}, "mark": {"type": "text", "color": "#000000", "fontSize": 9.5, "font": "Liberation Sans", "align": "left", "baseline": "middle"},
 "encoding": {"x": {"datum": 387.9, "type": "quantitative", "title": null}, "y": {"field": "p", "type": "quantitative", "title": null}, "text": {"field": "t"}}},
{"data": {"name": "tagsr"}, "mark": {"type": "bar", "size": 11, "color": "#ff0000"},
 "encoding": {"x": {"datum": 387.0, "type": "quantitative", "title": null}, "x2": {"datum": 396.3}, "y": {"field": "p", "type": "quantitative", "title": null}}},
{"data": {"name": "tagsb"}, "mark": {"type": "bar", "size": 11, "color": "#000000"},
 "encoding": {"x": {"datum": 387.0, "type": "quantitative", "title": null}, "x2": {"datum": 396.3}, "y": {"field": "p", "type": "quantitative", "title": null}}},
{"data": {"name": "tagsr"}, "mark": {"type": "text", "color": "#ffffff", "fontSize": 9.5, "font": "Liberation Sans", "align": "center", "baseline": "middle"},
 "encoding": {"x": {"datum": 391.7, "type": "quantitative", "title": null}, "y": {"field": "p", "type": "quantitative", "title": null}, "text": {"field": "t"}}},
{"data": {"name": "tagsb"}, "mark": {"type": "text", "color": "#ffffff", "fontSize": 9.5, "font": "Liberation Sans", "align": "center", "baseline": "middle"},
 "encoding": {"x": {"datum": 391.7, "type": "quantitative", "title": null}, "y": {"field": "p", "type": "quantitative", "title": null}, "text": {"field": "t"}}},
{"data": {"values": [{"p": 68.04, "t": "2025.01.15 15:00"}]}, "mark": {"type": "bar", "size": 15, "color": "#ff0000"},
 "encoding": {"x": {"datum": 348.75, "type": "quantitative", "title": null}, "x2": {"datum": 367.9}, "y": {"field": "p", "type": "quantitative", "title": null}}},
{"data": {"values": [{"p": 68.04, "t": "2025.01.15 15:00"}]}, "mark": {"type": "text", "color": "#ffffff", "fontSize": 9.5, "font": "Liberation Sans", "align": "center", "baseline": "middle"},
 "encoding": {"x": {"datum": 358.3, "type": "quantitative", "title": null}, "y": {"field": "p", "type": "quantitative", "title": null}, "text": {"field": "t"}}}
]
}
